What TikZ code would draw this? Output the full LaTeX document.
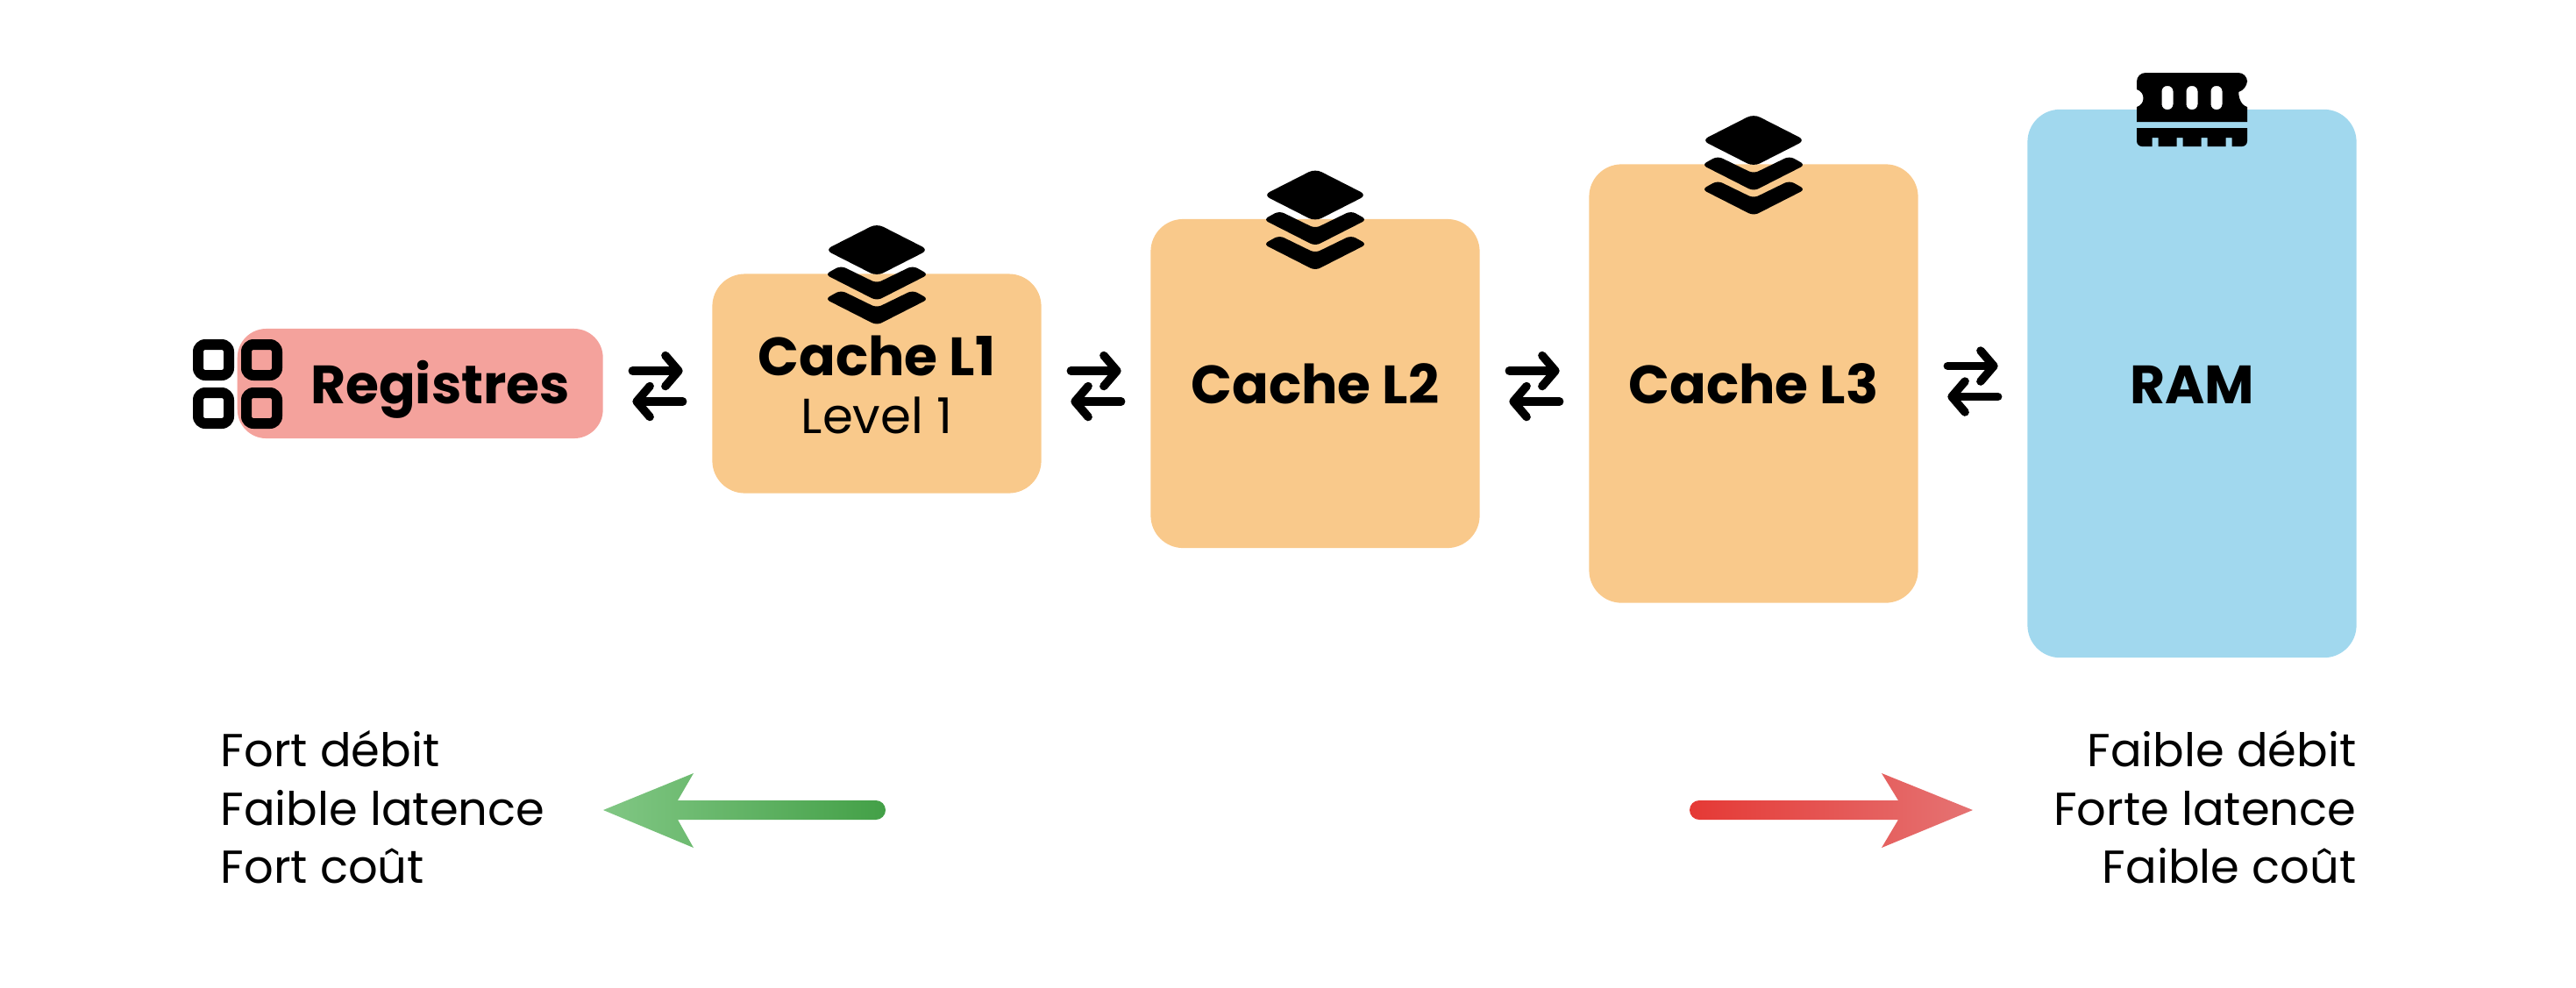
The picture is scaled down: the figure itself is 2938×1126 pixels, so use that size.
\documentclass[tikz,border=0pt]{standalone}
\usepackage{fontspec}
\setmainfont{Poppins}
\usetikzlibrary{arrows.meta, calc, positioning}

\definecolor{regcolor}{HTML}{F4A29C}
\definecolor{cachecolor}{HTML}{F9C98B}
\definecolor{ramcolor}{HTML}{A1D8EE}

\tikzset{
  levelbox/.style={rounded corners=0.37cm, inner sep=0pt},
  levelname/.style={inner sep=0pt, font=\fontsize{17.5}{21}\selectfont\bfseries, text height=13.2pt, text depth=0pt},
  swaparrow/.style={line width=0.095cm, line cap=round, shorten >=0.33cm, shorten <=0.33cm, -{Straight Barb[length=0.15cm, width=0.35cm, round]}},
  infotext/.style={inner sep=0pt, font=\fontsize{15}{18.9}\selectfont},
  pics/layers/.style={code={
    \fill[rounded corners=0.08cm] (0,-30) -- (59,0) -- (0,30) -- (-59,0) -- cycle;
    \foreach \dy in {28, 56} {
      \fill[rounded corners=0.06cm] (-59,\dy) -- (-41,{\dy-10}) -- (0,{\dy+10}) -- (41,{\dy-10}) -- (59,\dy) -- (0,{\dy+30}) -- cycle;
    }
  }},
}

\begin{document}
\begin{tikzpicture}[x=0.01cm, y=-0.01cm]
\useasboundingbox (0,0) rectangle (2938,1126);

% Memory levels
\node[levelbox, fill=regcolor, rounded corners=0.33cm, minimum width=4.167cm, minimum height=1.25cm] (reg) at (479.2,437.5) {};
\node[levelname] (regtext) at (502,437.5) {Registres};
\node[levelbox, fill=cachecolor, minimum width=3.75cm, minimum height=2.5cm] (L1) at (1000,437.5) {};
\node[levelname, anchor=base] (L1text) at (1000,428) {Cache L1};
\node[inner sep=0pt, anchor=base, font=\fontsize{16}{18}\selectfont] (L1sub) at (1000,494) {Level 1};
\node[levelbox, levelname, fill=cachecolor, minimum width=3.75cm, minimum height=3.75cm] (L2) at (1500,437.5) {Cache L2};
\node[levelbox, levelname, fill=cachecolor, minimum width=3.75cm, minimum height=5cm] (L3) at (2000,437.5) {Cache L3};
\node[levelbox, levelname, fill=ramcolor, minimum width=3.75cm, minimum height=6.25cm] (ram) at (2500,437.5) {RAM};

% Arrows between levels
\foreach \a/\b/\dy in {reg/L1/3, L1/L2/3, L2/L3/3, L3/ram/-2.5} {
  \draw[swaparrow] ($(\a.east)+(0,\dy-17.5)$) -- ($(\b.west)+(0,\dy-17.5)$);
  \draw[swaparrow] ($(\b.west)+(0,\dy+17.5)$) -- ($(\a.east)+(0,\dy+17.5)$);
}

% Register icon
\foreach \ix in {220, 275} {
  \foreach \iy in {387, 442} {
    \fill[even odd rule] [rounded corners=0.14cm] (\ix,\iy) rectangle ++(47,47)
      [rounded corners=0.02cm] ({\ix+12},{\iy+12}) rectangle ++(23,23);
  }
}

% Cache icons
\pic at (1000,285) {layers};
\pic at (1500,222.5) {layers};
\pic at (2000,160) {layers};

% RAM icon
\fill[even odd rule] [rounded corners=0.1cm]
  (2500,83) -- (2563,83) -- (2563,102) [sharp corners] .. controls (2553,105) and (2553,119) .. (2563,122) -- (2563,139) -- (2437,139)
  -- (2437,122) .. controls (2447,119) and (2447,105) .. (2437,102) [rounded corners=0.1cm] -- (2437,83) -- cycle
  [rounded corners=0.06cm] (2465.5,98) rectangle (2478.5,125)
  (2493.5,98) rectangle (2506.5,125)
  (2521.5,98) rectangle (2534.5,125);
\fill (2437,146) -- (2563,146) [rounded corners=0.06cm] -- (2563,167) [sharp corners] -- (2545.5,167) -- (2545.5,157) -- (2538.5,157) -- (2538.5,167) -- (2517.5,167) -- (2517.5,157) -- (2510.5,157) -- (2510.5,167) -- (2489.5,167) -- (2489.5,157) -- (2482.5,157) -- (2482.5,167) -- (2461.5,167) -- (2461.5,157) -- (2454.5,157) -- (2454.5,167) [rounded corners=0.06cm] -- (2437,167) [sharp corners] -- cycle;

% Bottom captions
\node[infotext, anchor=west, align=left] (fast) at (251,921) {Fort débit\\Faible latence\\Fort coût};
\node[infotext, anchor=east, align=right] (slow) at (2688,921) {Faible débit\\Forte latence\\Faible coût};

% Gradient arrows
\shade[left color={rgb,255:red,129;green,199;blue,132}, right color={rgb,255:red,67;green,160;blue,71}]
  (688,924) -- (791,882) -- (773,913) -- (999,913) arc (-90:90:11) -- (773,935) -- (791,967) -- cycle;
\shade[left color={rgb,255:red,229;green,57;blue,53}, right color={rgb,255:red,229;green,115;blue,115}]
  (2250,924) -- (2146,882) -- (2165,913) -- (1938,913) arc (-90:-270:11) -- (2165,935) -- (2146,967) -- cycle;

\end{tikzpicture}
\end{document}
